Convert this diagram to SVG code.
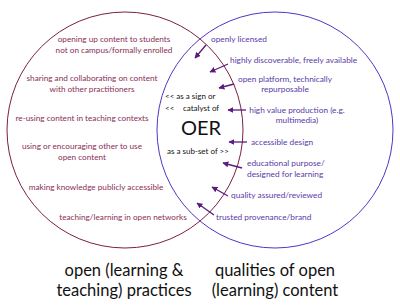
<svg xmlns="http://www.w3.org/2000/svg" width="400" height="307" viewBox="0 0 400 307">
<defs>
<marker id="ah" viewBox="0 0 10 10" refX="9" refY="5" markerWidth="6" markerHeight="6" orient="auto" markerUnits="userSpaceOnUse">
<path d="M0,0 L10,5 L0,10 z" fill="#5a1a7e"/>
</marker>
<style>
text{font-family:Lato,"Open Sans","DejaVu Sans",sans-serif}
.l{fill:#8a2e55;font-size:8.2px;text-anchor:middle}
.r{fill:#5a3aa8;font-size:8.3px}
.rc{fill:#5a3aa8;font-size:8.3px;text-anchor:middle}
.c{fill:#111;font-size:8px}
.b{fill:#111;font-size:16.5px;text-anchor:middle}
.arr{stroke:#5a1a7e;stroke-width:1.3;fill:none;marker-end:url(#ah)}
</style>
</defs>
<rect width="400" height="307" fill="#fff"/>
<g id="practices">
<circle cx="125" cy="130" r="118" fill="none" stroke="#7a1f45" stroke-width="1"/>
<text class="l" x="114" y="42">opening up content to students</text>
<text class="l" x="114" y="53">not on campus/formally enrolled</text>
<text class="l" x="92" y="81">sharing and collaborating on content</text>
<text class="l" x="92" y="92">with other practitioners</text>
<text class="l" x="82" y="121">re-using content in teaching contexts</text>
<text class="l" x="82" y="149">using or encouraging other to use</text>
<text class="l" x="82" y="160">open content</text>
<text class="l" x="96" y="190">making knowledge publicly accessible</text>
<text class="l" x="123" y="220">teaching/learning in open networks</text>
</g>
<g id="content">
<circle cx="275" cy="130" r="118" fill="none" stroke="#5533c4" stroke-width="1"/>
<text class="r" x="211" y="42">openly licensed</text>
<text class="r" x="230" y="63">highly discoverable, freely available</text>
<text class="rc" x="285" y="82">open platform, technically</text>
<text class="rc" x="285" y="92">repurposable</text>
<text class="rc" x="297" y="113">high value production (e.g.</text>
<text class="rc" x="297" y="123">multimedia)</text>
<text class="r" x="251" y="145">accessible design</text>
<text class="r" x="247" y="166">educational purpose/</text>
<text class="r" x="247" y="177">designed for learning</text>
<text class="r" x="231" y="198">quality assured/reviewed</text>
<text class="r" x="216" y="220">trusted provenance/brand</text>
</g>
<g id="oer">
<text class="c" x="165" y="99">&lt;&lt; as a sign or</text>
<text class="c" x="165" y="111">&lt;&lt;</text>
<text class="c" x="183" y="111">catalyst of</text>
<text x="201" y="135" fill="#111" font-size="20" text-anchor="middle" style="font-family:Lato,'Open Sans',sans-serif">OER</text>
<text class="c" x="167" y="154">as a sub-set of &gt;&gt;</text>
</g>
<g id="connectors">
<line class="arr" x1="206" y1="45" x2="195" y2="58"/>
<line class="arr" x1="228" y1="64" x2="210" y2="72"/>
<line class="arr" x1="234" y1="84" x2="219" y2="88"/>
<line class="arr" x1="246" y1="110" x2="228" y2="110"/>
<line class="arr" x1="247" y1="142" x2="229" y2="142"/>
<line class="arr" x1="242" y1="168" x2="223" y2="163"/>
<line class="arr" x1="228" y1="196" x2="212" y2="187"/>
<line class="arr" x1="214" y1="215" x2="197" y2="203"/>
</g>
<g id="labels">
<text class="b" x="124" y="276">open (learning &amp;</text>
<text class="b" x="124" y="296">teaching) practices</text>
<text class="b" x="275" y="276">qualities of open</text>
<text class="b" x="275" y="296">(learning) content</text>
</g>
</svg>
